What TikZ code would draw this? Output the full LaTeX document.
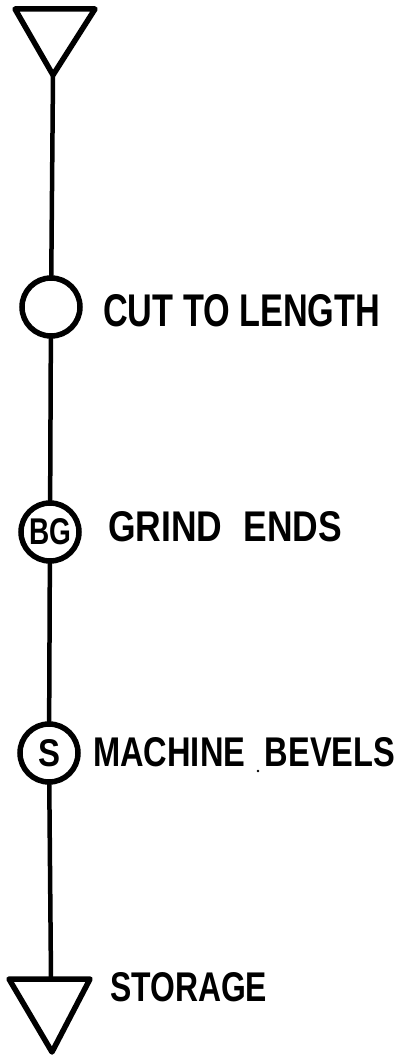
\documentclass[tikz,border=0pt]{standalone}
\usepackage{fontspec}
\setmainfont{Liberation Sans}
\usepackage{graphicx}
\tikzset{
  flow/.style={line width=4.5pt, line cap=round, line join=round},
  tri/.style={line width=5.5pt, line cap=round, line join=round},
  opcircle/.style={circle, draw, line width=5.5pt, minimum size=58pt, inner sep=0pt},
  lbl/.style={anchor=west, inner sep=0pt},
  inlbl/.style={inner sep=0pt},
}
\newcommand{\hand}[3]{\resizebox{#1pt}{#2pt}{\bfseries #3}}
\begin{document}
\begin{tikzpicture}[x=1pt,y=-1pt]
\useasboundingbox (0,0) rectangle (406,1057);
% top storage triangle
\draw[tri] (15,9) -- (95,9) -- (53,75) -- cycle;
\coordinate (t1) at (53,75);
% operation circles
\node[opcircle] (c1) at (51,307) {};
\node[opcircle] (c2) at (50,532) {};
\node[inlbl] at (c2) {\hand{42}{26}{BG}};
\node[opcircle] (c3) at (49,753) {};
\node[inlbl] at (c3) {\hand{22}{27}{S}};
% bottom storage triangle
\draw[tri] (9,979) -- (90,979) -- (52,1052) -- cycle;
\coordinate (t2) at (51,979);
% connectors
\draw[flow] (t1) -- (c1);
\draw[flow] (c1) -- (c2);
\draw[flow] (c2) -- (c3);
\draw[flow] (c3) -- (t2);
% labels
\node[lbl] (l1) at (103,311) {\hand{277}{32}{CUT TO LENGTH}};
\node[lbl] (l2) at (108,527) {\hand{234}{30}{GRIND\hspace{0.6em}ENDS}};
\node[lbl] (l3) at (93,752) {\hand{302}{29}{MACHINE\hspace{0.6em}BEVELS}};
\node[lbl] (l4) at (110,987) {\hand{157}{29}{STORAGE}};
\fill (258,771) circle (1.3);
\end{tikzpicture}
\end{document}
